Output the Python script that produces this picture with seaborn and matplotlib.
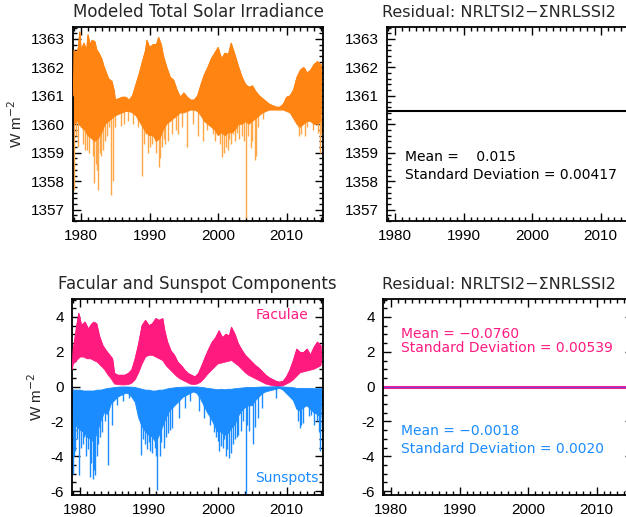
import numpy as np
import pandas as pd
import matplotlib
matplotlib.use("Agg")
import matplotlib.pyplot as plt
from matplotlib.ticker import MultipleLocator
import seaborn as sns

# ---------------- data ----------------
# Modeled total solar irradiance: upper edge of the daily envelope
tsi_up_year = [1978.85, 1978.95, 1979.3, 1979.6, 1979.8, 1980.0, 1980.4, 1980.8, 1981.0, 1981.3,
               1981.6, 1982.0, 1982.3, 1982.6, 1983.0, 1983.3, 1983.6, 1984.0, 1984.5, 1984.8,
               1985.0, 1985.5, 1986.0, 1986.5, 1987.0, 1987.5, 1988.0, 1988.5, 1989.0, 1989.4,
               1989.6, 1990.0, 1990.5, 1991.0, 1991.3, 1991.7, 1992.0, 1992.5, 1993.0, 1993.5,
               1994.0, 1994.5, 1995.0, 1995.5, 1996.0, 1996.5, 1997.0, 1997.5, 1998.0, 1998.5,
               1999.0, 1999.5, 2000.0, 2000.5, 2001.0, 2001.5, 2001.9, 2002.5, 2003.0, 2003.5,
               2004.0, 2004.5, 2005.0, 2005.5, 2006.0, 2006.5, 2007.0, 2007.5, 2008.0, 2008.5,
               2009.0, 2009.5, 2010.0, 2010.5, 2011.0, 2011.5, 2012.0, 2012.5, 2013.0, 2013.5,
               2014.0, 2014.5, 2015.0, 2015.1]
tsi_up_val = [1361.0, 1362.6, 1362.5, 1362.7, 1363.25, 1362.6, 1362.85, 1362.6, 1363.15, 1362.8,
              1362.95, 1362.9, 1362.6, 1362.5, 1362.3, 1362.05, 1361.85, 1361.6, 1361.5, 1361.2,
              1360.85, 1360.9, 1360.95, 1360.95, 1360.85, 1361.0, 1361.4, 1361.8, 1362.25, 1362.6,
              1362.95, 1362.7, 1362.8, 1362.8, 1363.05, 1362.8, 1362.4, 1362.0, 1361.65, 1361.55,
              1361.2, 1360.95, 1361.1, 1360.95, 1360.85, 1360.85, 1361.0, 1361.4, 1361.75, 1362.0,
              1362.3, 1362.5, 1362.7, 1362.3, 1362.5, 1362.45, 1362.85, 1362.4, 1362.0, 1361.65,
              1361.4, 1361.3, 1361.35, 1361.15, 1361.0, 1360.9, 1360.8, 1360.7, 1360.65, 1360.6,
              1360.6, 1360.7, 1360.95, 1361.0, 1361.2, 1361.65, 1361.9, 1362.0, 1361.8, 1361.9,
              1362.1, 1362.2, 1362.1, 1361.5]

# half-yearly grid for the lower edges of the dense bands
band_year = [1978.85,
             1979.0, 1979.5, 1980.0, 1980.5, 1981.0, 1981.5, 1982.0, 1982.5, 1983.0, 1983.5,
             1984.0, 1984.5, 1985.0, 1985.5, 1986.0, 1986.5, 1987.0, 1987.5, 1988.0, 1988.5,
             1989.0, 1989.5, 1990.0, 1990.5, 1991.0, 1991.5, 1992.0, 1992.5, 1993.0, 1993.5,
             1994.0, 1994.5, 1995.0, 1995.5, 1996.0, 1996.5, 1997.0, 1997.5, 1998.0, 1998.5,
             1999.0, 1999.5, 2000.0, 2000.5, 2001.0, 2001.5, 2002.0, 2002.5, 2003.0, 2003.5,
             2004.0, 2004.5, 2005.0, 2005.5, 2006.0, 2006.5, 2007.0, 2007.5, 2008.0, 2008.5,
             2009.0, 2009.5, 2010.0, 2010.5, 2011.0, 2011.5, 2012.0, 2012.5, 2013.0, 2013.5,
             2014.0, 2014.5,
             2015.0, 2015.1]
tsi_low_val = [1360.6,
               1360.0, 1360.1, 1359.9, 1359.8, 1359.6, 1359.5, 1359.4, 1359.5, 1359.7, 1360.0,
               1360.1, 1360.2, 1360.3, 1360.35, 1360.4, 1360.45, 1360.45, 1360.4, 1360.3, 1360.1,
               1359.9, 1359.7, 1359.6, 1359.6, 1359.4, 1359.5, 1359.8, 1360.0, 1360.1, 1360.2,
               1360.3, 1360.4, 1360.4, 1360.45, 1360.5, 1360.5, 1360.45, 1360.3, 1360.1, 1360.0,
               1359.9, 1359.8, 1359.6, 1359.7, 1359.6, 1359.7, 1359.7, 1359.8, 1360.0, 1360.0,
               1360.1, 1360.0, 1360.1, 1360.2, 1360.3, 1360.4, 1360.45, 1360.5, 1360.5, 1360.5,
               1360.5, 1360.5, 1360.45, 1360.4, 1360.2, 1360.0, 1359.9, 1360.0, 1360.1, 1360.1,
               1360.0, 1360.0,
               1360.1, 1360.6]

# isolated daily dips below the band (sunspot passages)
tsi_dip_year = [1978.9, 1979.2, 1979.6, 1980.2, 1980.5, 1980.8, 1981.1, 1981.4, 1981.7, 1981.9,
                1982.1, 1982.3, 1982.5, 1982.7, 1982.9, 1983.2, 1983.5, 1983.8, 1984.0, 1984.3,
                1984.7, 1985.0, 1985.8, 1986.2, 1986.8, 1987.5, 1988.3, 1988.9, 1989.2, 1989.5,
                1989.8, 1990.0, 1990.3, 1990.7, 1990.9, 1991.3, 1991.5, 1991.8, 1992.1, 1992.3,
                1992.6, 1993.3, 1993.8, 1994.2, 1994.7, 1995.5, 1996.3, 1997.1, 1997.8, 1998.4,
                1999.2, 1999.6, 2000.3, 2000.6, 2000.9, 2001.2, 2001.4, 2001.6, 2001.8, 2002.1,
                2002.4, 2002.8, 2003.1, 2003.5, 2003.8, 2004.1, 2004.4, 2004.8, 2005.0, 2005.3,
                2005.5, 2005.8, 2006.5, 2011.6, 2011.8, 2012.1, 2012.6, 2012.9, 2013.9, 2014.5,
                2014.8, 2015.0]
tsi_dip_val = [1357.7, 1359.6, 1359.2, 1359.3, 1359.1, 1359.1, 1359.0, 1359.7, 1358.9, 1357.95,
               1358.6, 1358.4, 1357.7, 1359.0, 1358.9, 1359.1, 1359.4, 1359.6, 1359.9, 1357.5,
               1358.0, 1359.9, 1359.95, 1360.0, 1360.1, 1360.0, 1359.9, 1358.2, 1359.3, 1359.65,
               1359.0, 1359.2, 1359.3, 1359.4, 1359.0, 1358.5, 1358.8, 1359.2, 1359.5, 1359.3,
               1359.4, 1359.65, 1359.8, 1359.65, 1359.9, 1359.2, 1360.0, 1359.6, 1359.4, 1359.8,
               1359.65, 1359.4, 1359.3, 1358.85, 1359.0, 1359.2, 1359.1, 1359.5, 1359.3, 1359.65,
               1359.4, 1359.7, 1359.5, 1359.6, 1359.4, 1356.7, 1359.6, 1359.15, 1359.4, 1358.75,
               1358.9, 1359.9, 1360.2, 1359.9, 1359.6, 1359.65, 1359.6, 1359.9, 1359.8, 1359.7,
               1359.0, 1359.65]

# facular component: upper edge
fac_up_year = [1978.85, 1978.95, 1979.5, 1979.8, 1980.2, 1980.7, 1981.2, 1981.7, 1982.0, 1982.4,
               1982.8, 1983.3, 1983.8, 1984.3, 1984.7, 1985.0, 1985.5, 1986.0, 1986.5, 1987.0,
               1987.5, 1988.0, 1988.5, 1989.0, 1989.5, 1990.0, 1990.5, 1991.0, 1991.5, 1992.0,
               1992.3, 1992.7, 1993.2, 1993.7, 1994.2, 1994.7, 1995.2, 1995.7, 1996.2, 1996.7,
               1997.2, 1997.7, 1998.2, 1998.7, 1999.2, 1999.7, 2000.2, 2000.7, 2001.2, 2001.7,
               2002.0, 2002.5, 2003.0, 2003.5, 2004.0, 2004.5, 2005.0, 2005.5, 2006.0, 2006.5,
               2007.0, 2007.5, 2008.0, 2008.5, 2009.0, 2009.5, 2010.0, 2010.5, 2011.0, 2011.5,
               2012.0, 2012.5, 2013.0, 2013.5, 2014.0, 2014.5, 2015.0, 2015.1]
fac_up_val = [1.0, 2.0, 3.5, 4.2, 3.5, 3.7, 3.3, 3.6, 3.7, 3.6,
              2.9, 2.35, 2.05, 1.8, 1.6, 0.75, 0.65, 0.65, 0.65, 0.75,
              0.95, 1.6, 2.45, 3.5, 3.8, 3.5, 3.6, 3.9, 3.8, 3.9,
              3.2, 2.55, 2.05, 1.8, 1.4, 1.2, 0.95, 0.75, 0.65, 0.55,
              0.75, 1.2, 1.7, 2.15, 2.55, 2.8, 3.2, 2.8, 3.0, 2.9,
              3.4, 3.0, 2.45, 2.1, 1.8, 1.6, 1.4, 1.2, 1.05, 0.85,
              0.65, 0.5, 0.4, 0.3, 0.25, 0.3, 0.55, 0.95, 1.5, 2.15,
              1.95, 1.95, 2.15, 1.8, 2.25, 2.55, 2.35, 1.5]
# facular component: lower edge (half-yearly grid)
fac_low_val = [1.0,
               1.3, 1.5, 1.7, 1.7, 1.6, 1.6, 1.5, 1.4, 1.2, 1.0,
               0.7, 0.45, 0.15, 0.12, 0.1, 0.1, 0.12, 0.2, 0.4, 0.8,
               1.3, 1.7, 1.8, 1.8, 1.7, 1.6, 1.5, 1.2, 1.0, 0.8,
               0.6, 0.45, 0.35, 0.25, 0.15, 0.12, 0.15, 0.25, 0.45, 0.7,
               0.9, 1.1, 1.3, 1.35, 1.4, 1.45, 1.5, 1.35, 1.2, 1.0,
               0.8, 0.65, 0.55, 0.45, 0.35, 0.25, 0.15, 0.1, 0.05, 0.03,
               0.02, 0.05, 0.15, 0.25, 0.4, 0.6, 0.8, 0.85, 0.9, 0.95,
               1.0, 1.1,
               1.2, 1.5]

# sunspot component: upper and lower edges of the band (half-yearly grid)
spot_up_val = [-0.1,
               -0.2, -0.2, -0.2, -0.25, -0.25, -0.25, -0.25, -0.2, -0.2, -0.15,
               -0.1, -0.08, -0.05, -0.03, -0.02, -0.02, -0.02, -0.03, -0.05, -0.1,
               -0.15, -0.2, -0.2, -0.25, -0.25, -0.2, -0.2, -0.15, -0.1, -0.08,
               -0.05, -0.04, -0.03, -0.02, -0.02, -0.02, -0.02, -0.04, -0.06, -0.1,
               -0.12, -0.15, -0.18, -0.15, -0.18, -0.15, -0.15, -0.12, -0.1, -0.08,
               -0.06, -0.05, -0.05, -0.04, -0.03, -0.02, -0.02, -0.02, -0.01, -0.01,
               -0.01, -0.02, -0.03, -0.04, -0.06, -0.1, -0.1, -0.1, -0.1, -0.1,
               -0.12, -0.12,
               -0.12, -0.1]
spot_low_val = [-0.5,
                -2.0, -2.3, -2.5, -2.6, -2.9, -3.0, -3.2, -2.6, -2.0, -1.5,
                -1.6, -1.0, -0.8, -0.6, -0.5, -0.4, -0.4, -0.6, -0.9, -1.8,
                -2.3, -2.6, -2.8, -2.9, -3.2, -2.8, -2.3, -1.8, -1.4, -1.2,
                -1.0, -0.8, -0.6, -0.5, -0.4, -0.3, -0.4, -0.7, -1.1, -1.5,
                -1.8, -2.2, -2.6, -2.6, -2.8, -2.7, -2.4, -2.2, -1.7, -1.4,
                -1.2, -1.1, -1.1, -0.8, -0.6, -0.4, -0.3, -0.25, -0.2, -0.15,
                -0.1, -0.2, -0.4, -0.6, -0.8, -1.3, -1.4, -1.2, -1.1, -1.3,
                -1.5, -1.6,
                -1.8, -0.5]
# deepest daily sunspot dips
spot_dip_year = [1978.9, 1979.1, 1979.3, 1979.6, 1979.8, 1980.1, 1980.4, 1980.6, 1980.8, 1981.1,
                 1981.4, 1981.6, 1981.8, 1982.0, 1982.2, 1982.4, 1982.6, 1982.9, 1983.2, 1983.6,
                 1984.1, 1984.6, 1985.4, 1986.2, 1987.1, 1988.8, 1989.1, 1989.4, 1989.7, 1990.0,
                 1990.2, 1990.5, 1990.8, 1991.0, 1991.2, 1991.6, 1991.8, 1992.2, 1992.5, 1992.7,
                 1993.0, 1993.4, 1994.4, 1995.3, 1996.0, 1997.3, 1998.0, 1998.8, 1999.4, 1999.7,
                 2000.0, 2000.2, 2000.4, 2000.7, 2000.9, 2001.2, 2001.4, 2001.6, 2001.9, 2002.2,
                 2002.5, 2002.8, 2003.0, 2003.4, 2003.7, 2004.1, 2004.3, 2004.6, 2005.1, 2005.4,
                 2005.8, 2006.5, 2008.4, 2011.6, 2011.9, 2012.1, 2012.4, 2013.2, 2013.6, 2014.0,
                 2014.4, 2014.7, 2014.9, 2015.1]
spot_dip_val = [-5.0, -4.0, -3.7, -3.0, -5.1, -3.5, -3.3, -2.9, -4.0, -3.6,
                -5.2, -4.4, -5.3, -4.8, -5.1, -4.0, -3.3, -2.9, -2.6, -2.0,
                -4.5, -2.2, -1.05, -0.85, -0.65, -3.95, -3.0, -3.3, -3.6, -3.2,
                -3.7, -3.8, -3.5, -4.0, -5.95, -4.0, -3.2, -3.5, -2.9, -2.65,
                -2.5, -2.35, -1.8, -1.2, -0.85, -1.4, -1.8, -2.2, -2.6, -2.9,
                -3.1, -3.7, -3.4, -3.5, -3.0, -4.0, -3.6, -4.1, -3.8, -3.3,
                -3.0, -2.9, -2.8, -2.55, -2.0, -6.2, -2.2, -2.55, -3.3, -2.3,
                -1.8, -1.2, -0.65, -2.0, -2.35, -2.2, -2.1, -1.7, -1.6, -2.2,
                -2.0, -2.6, -3.7, -2.35]

# residuals
resid_year = [1978.85, 2015.1]
resid_tsi = [1360.46, 1360.46]
resid_fac = [0.0, 0.0]
resid_spot = [0.0, 0.0]

tsi_stats = ("Mean =    0.015", "Standard Deviation = 0.00417")
fac_stats = ("Mean = \u22120.0760", "Standard Deviation = 0.00539")
spot_stats = ("Mean = \u22120.0018", "Standard Deviation = 0.0020")
resid_title = "Residual: NRLTSI2\u2212\u03a3NRLSSI2"

# ---------------- style ----------------
sns.set_theme(style="ticks")
plt.rcParams["font.family"] = ["Liberation Sans", "DejaVu Sans"]
plt.rcParams["axes.unicode_minus"] = False
TXT = ["DejaVu Sans"]

ORANGE = "#ff8412"
ORANGE_LIGHT = "#ffa646"
PINK = "#ff1a80"
BLUE = "#1a8cff"

fig = plt.figure(figsize=(6.26, 5.17), dpi=100)
w = 0.3994
ax1 = fig.add_axes([0.1166, 0.5725, w, 0.3752])
ax2 = fig.add_axes([0.6182, 0.5725, w, 0.3752])
ax3 = fig.add_axes([0.1150, 0.0426, w + 0.0016, 0.3790])
ax4 = fig.add_axes([0.6118, 0.0426, w, 0.3790])


def style_axes(ax, ylim, major, minor):
    ax.set_xlim(1978.8, 2015.3)
    ax.set_ylim(*ylim)
    ax.xaxis.set_major_locator(MultipleLocator(10))
    ax.xaxis.set_minor_locator(MultipleLocator(1))
    ax.yaxis.set_major_locator(MultipleLocator(major))
    ax.yaxis.set_minor_locator(MultipleLocator(minor))
    ax.tick_params(which="both", direction="in", top=True, right=True,
                   color="black", width=1.0, labelsize=11, labelcolor="black")
    ax.tick_params(which="major", length=6, pad=6)
    ax.tick_params(which="minor", length=3)
    for s in ax.spines.values():
        s.set_linewidth(1.3)
        s.set_color("black")
    ax.set_xlabel("")
    ax.set_ylabel("")


def band(ax, up_x, up_y, lo_x, lo_y, color):
    xs = np.concatenate([up_x, lo_x[::-1]])
    ys = np.concatenate([up_y, lo_y[::-1]])
    ax.fill(xs, ys, color=color, lw=0.6, ec=color, zorder=2)


# --- panel 1: total solar irradiance
band(ax1, np.array(tsi_up_year), np.array(tsi_up_val),
     np.array(band_year), np.array(tsi_low_val), ORANGE)
tsi_top = np.interp(tsi_dip_year, band_year, tsi_low_val) + 0.15
ax1.vlines(tsi_dip_year, tsi_dip_val, tsi_top, color=ORANGE_LIGHT, lw=1.0, zorder=1)
sns.lineplot(x=tsi_up_year, y=tsi_up_val, ax=ax1, color=ORANGE, lw=0.8, zorder=3)
style_axes(ax1, (1356.6, 1363.42), 1, 0.2)
ax1.set_title("Modeled Total Solar Irradiance", fontsize=12, pad=7, family=TXT)
ax1.set_ylabel("W m$^{-2}$", fontsize=11)

# --- panel 2: residual of the total
df_r = pd.DataFrame({"year": resid_year, "tsi": resid_tsi,
                     "fac": resid_fac, "spot": resid_spot})
sns.lineplot(data=df_r, x="year", y="tsi", ax=ax2, color="black", lw=1.5)
style_axes(ax2, (1356.6, 1363.42), 1, 0.2)
ax2.set_title(resid_title, fontsize=11.5, pad=7, family=TXT, loc="left", x=-0.02)
ax2.text(1981.4, 1358.86, tsi_stats[0], fontsize=10, va="center", color="black", family=TXT)
ax2.text(1981.4, 1358.23, tsi_stats[1], fontsize=10, va="center", color="black", family=TXT)

# --- panel 3: facular and sunspot components
band(ax3, np.array(fac_up_year), np.array(fac_up_val),
     np.array(band_year), np.array(fac_low_val), PINK)
sns.lineplot(x=fac_up_year, y=fac_up_val, ax=ax3, color=PINK, lw=0.8, zorder=3)
band(ax3, np.array(band_year), np.array(spot_up_val),
     np.array(band_year), np.array(spot_low_val), BLUE)
spot_top = np.interp(spot_dip_year, band_year, spot_low_val) + 0.3
ax3.vlines(spot_dip_year, spot_dip_val, spot_top, color=BLUE, lw=1.0, zorder=1)
style_axes(ax3, (-6.22, 5.03), 2, 0.5)
ax3.set_title("Facular and Sunspot Components", fontsize=12, pad=7, family=TXT)
ax3.set_ylabel("W m$^{-2}$", fontsize=11)
ax3.text(2005.5, 4.1, "Faculae", color=PINK, fontsize=10, va="center", family=TXT)
ax3.text(2005.5, -5.25, "Sunspots", color=BLUE, fontsize=10, va="center", family=TXT)

# --- panel 4: component residuals
sns.lineplot(data=df_r, x="year", y="fac", ax=ax4, color=PINK, lw=2.2)
sns.lineplot(data=df_r, x="year", y="spot", ax=ax4, color="#8a3ccf", lw=1.0)
style_axes(ax4, (-6.22, 5.03), 2, 0.5)
ax4.set_title(resid_title, fontsize=11.5, pad=7, family=TXT, loc="left", x=-0.005)
ax4.text(1981.4, 3.03, fac_stats[0], fontsize=10, va="center", color=PINK, family=TXT)
ax4.text(1981.4, 2.22, fac_stats[1], fontsize=10, va="center", color=PINK, family=TXT)
ax4.text(1981.4, -2.56, spot_stats[0], fontsize=10, va="center", color=BLUE, family=TXT)
ax4.text(1981.4, -3.56, spot_stats[1], fontsize=10, va="center", color=BLUE, family=TXT)

fig.savefig("out.png", dpi=100)
